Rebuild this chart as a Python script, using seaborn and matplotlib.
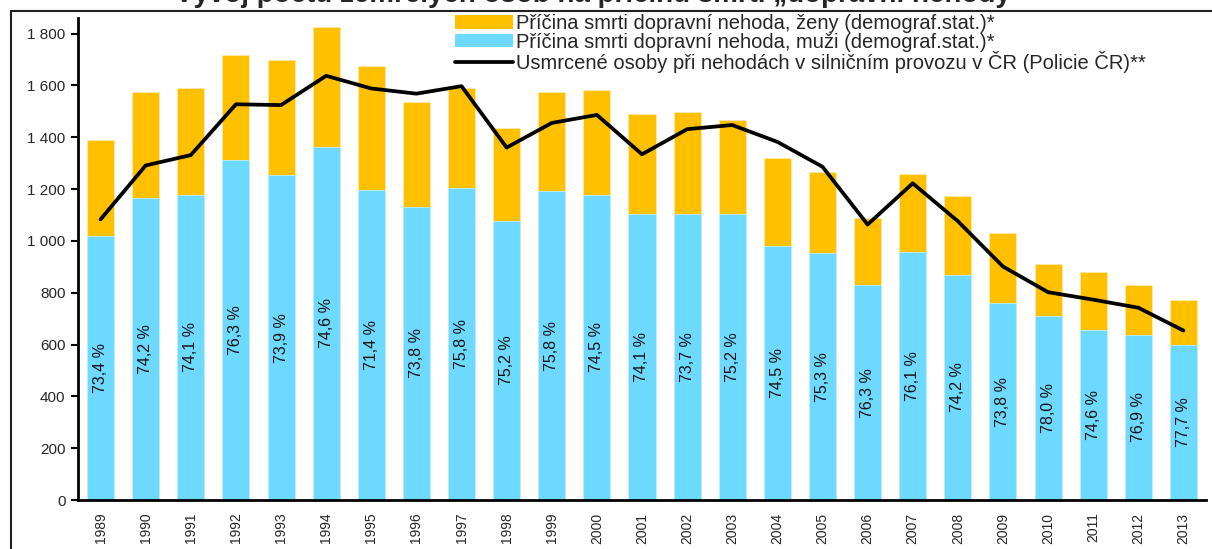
import numpy as np
import pandas as pd
import matplotlib
matplotlib.use("Agg")
import matplotlib.pyplot as plt
from matplotlib.patches import Patch, Rectangle
from matplotlib.lines import Line2D
from matplotlib.ticker import FuncFormatter
import seaborn as sns

# ---- data ----
years = [str(y) for y in range(1989, 2014)]
total_deaths = [1390, 1573, 1588, 1719, 1696, 1827, 1673, 1534, 1588, 1434,
                1573, 1581, 1488, 1496, 1465, 1318, 1264, 1087, 1257, 1172,
                1029, 910, 879, 829, 771]
male_deaths = [1020, 1167, 1177, 1312, 1253, 1363, 1195, 1132, 1204, 1078,
               1192, 1178, 1103, 1102, 1102, 982, 952, 829, 956, 870,
               760, 710, 656, 637, 599]
male_pct = [73.4, 74.2, 74.1, 76.3, 73.9, 74.6, 71.4, 73.8, 75.8, 75.2,
            75.8, 74.5, 74.1, 73.7, 75.2, 74.5, 75.3, 76.3, 76.1, 74.2,
            73.8, 78.0, 74.6, 76.9, 77.7]
police_killed = [1083, 1291, 1331, 1527, 1524, 1637, 1588, 1568, 1597, 1360,
                 1455, 1486, 1334, 1431, 1447, 1382, 1286, 1063, 1222, 1076,
                 901, 802, 773, 742, 654]

label_women = "Příčina smrti dopravní nehoda, ženy (demograf.stat.)*"
label_men = "Příčina smrti dopravní nehoda, muži (demograf.stat.)*"
label_police = "Usmrcené osoby při nehodách v silničním provozu v ČR (Policie ČR)**"
title = "Vývoj počtu zemřelých osob na příčinu smrti „dopravní nehody“"

ORANGE = "#FFC000"
BLUE = "#6DD9FF"

sns.set_style("white")
plt.rcParams["font.family"] = ["Liberation Sans", "DejaVu Sans"]

W, H = 1212, 549
fig = plt.figure(figsize=(W / 100, H / 100), dpi=100)
ax = fig.add_axes([78 / W, 1 - 500 / H, (1206 - 78) / W, (500 - 18) / H])

df = pd.DataFrame({"year": years, "total": total_deaths, "male": male_deaths,
                   "police": police_killed})

sns.barplot(data=df, x="year", y="total", color=ORANGE, saturation=1, width=0.6,
            edgecolor="#FFE9A8", linewidth=0.6, ax=ax)
sns.barplot(data=df, x="year", y="male", color=BLUE, saturation=1, width=0.6,
            edgecolor="#BDEFFF", linewidth=0.6, ax=ax)
sns.lineplot(data=df, x="year", y="police", color="black", linewidth=2.7,
             sort=False, ax=ax)

# percentage labels inside blue bars
ax.bar_label(ax.containers[1],
             labels=[f"{p:.1f} %".replace(".", ",") for p in male_pct],
             label_type="center", rotation=90, fontsize=11.5, color="#111111")

ax.set_xlim(-0.5, len(years) - 0.5)
ax.set_ylim(0, 1860)
ax.set_yticks(np.arange(0, 1801, 200))
ax.yaxis.set_major_formatter(FuncFormatter(lambda v, p: f"{int(v):,}".replace(",", " ")))
ax.set_xlabel("")
ax.set_ylabel("")

ax.set_xticks(np.arange(len(years)))
ax.set_xticklabels(years, rotation=90, fontsize=10)
ax.set_xticks(np.arange(-0.5, len(years)), minor=True)
ax.tick_params(axis="x", which="major", length=0, pad=9)
ax.tick_params(axis="x", which="minor", length=6, width=1.5, color="black", direction="out")
ax.tick_params(axis="y", length=5, width=1.5, color="black", direction="out",
               labelsize=11, pad=4, left=True)

for s in ["top", "right"]:
    ax.spines[s].set_visible(False)
for s in ["left", "bottom"]:
    ax.spines[s].set_color("black")
    ax.spines[s].set_linewidth(2)

handles = [Patch(facecolor=ORANGE, edgecolor="none"),
           Patch(facecolor=BLUE, edgecolor="none"),
           Line2D([0], [0], color="black", linewidth=2.7)]
fig.legend(handles, [label_women, label_men, label_police], loc="upper left",
           bbox_to_anchor=(455 / W, 1 - 14 / H), frameon=False, fontsize=14.5,
           handlelength=2.9, handleheight=0.65, labelspacing=-0.02,
           handletextpad=0.15, borderpad=0, borderaxespad=0)

# figure frame (clipped at right and bottom)
fig.patches.append(Rectangle((11 / W, -0.1), 1.2, 1 - 11 / H + 0.1,
                             transform=fig.transFigure, fill=False,
                             edgecolor="#222222", linewidth=1.5))

# title mostly cut off at the top
fig.text(600 / W, 1 - 2 / H, title, ha="center", va="baseline",
         fontsize=20, fontweight="bold")

fig.savefig("out.png", dpi=100)
